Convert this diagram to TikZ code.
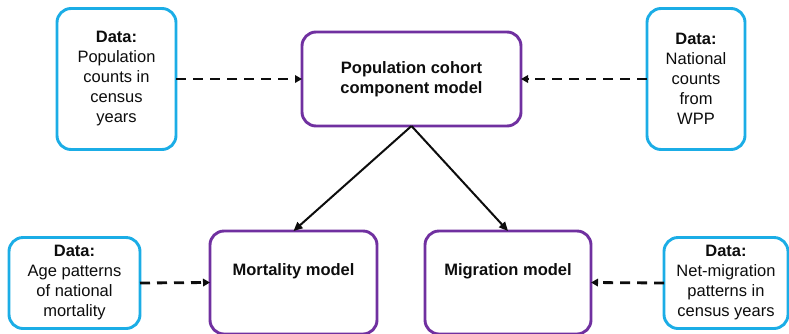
\documentclass[tikz,border=0pt]{standalone}
\usepackage{fontspec}
\setmainfont{Liberation Sans}
\usetikzlibrary{arrows.meta}
\definecolor{FlowData}{HTML}{1BADE6}
\definecolor{FlowModel}{HTML}{7030A0}
\definecolor{FlowInk}{gray}{0.05}
\tikzset{
    flow/diagram/.style={
        font=\fontsize{16.5}{20}\selectfont,
        text=FlowInk,
        line cap=butt,
        line join=round,
        every node/.style={inner sep=0pt, outer sep=0pt}
    },
    flow/data/.style={
        draw=FlowData, line width=2.9pt, rounded corners=14pt,
        align=center, fill=white
    },
    flow/model/.style={
        draw=FlowModel, line width=2.9pt, rounded corners=14pt,
        align=center, fill=white, font=\fontsize{16.5}{20}\selectfont\bfseries
    },
    flow/feed/.style={
        draw=FlowInk, line width=2.8pt, dash pattern=on 10pt off 7pt,
        -{Triangle[length=7pt, width=7.5pt]}
    },
    flow/link/.style={
        draw=FlowInk, line width=2pt,
        -{Triangle[length=9pt, width=8pt]}
    }
}
\begin{document}
\begin{tikzpicture}[flow/diagram, x=1pt, y=-1pt]
    \useasboundingbox (0,0) rectangle (789,333);
    % upper row
    \node[flow/data, minimum width=119pt, minimum height=141pt] (census)
        at (116.5,79) {\textbf{Data:}\\Population\\counts in\\census\\years};
    \node[flow/model, minimum width=219pt, minimum height=94pt] (cohort)
        at (411.5,79) {Population cohort\\component model};
    \node[flow/data, minimum width=98pt, minimum height=141pt] (wpp)
        at (696,79) {\textbf{Data:}\\National\\counts\\from\\WPP};
    % lower row
    \node[flow/model, minimum width=167pt, anchor=north, text height=44pt,
        text depth=59pt] (mortality) at (293.5,231) {Mortality model};
    \node[flow/model, minimum width=166pt, anchor=north, text height=44pt,
        text depth=59pt] (migration) at (508,231) {Migration model};
    \node[flow/data, minimum width=131pt, minimum height=91pt] (agepat)
        at (74.5,283) {\textbf{Data:}\\Age patterns\\of national\\mortality};
    \node[flow/data, minimum width=124pt, minimum height=91pt] (netmig)
        at (726,283) {\textbf{Data:}\\Net-migration\\patterns in\\census years};
    % connectors
    \draw[flow/feed] (census.east) -- (cohort.west);
    \draw[flow/feed] (wpp.west) -- (cohort.east);
    \draw[flow/link] (cohort.south) -- (mortality.north);
    \draw[flow/link] (cohort.south) -- (migration.north);
    \draw[flow/feed] (agepat.east) -- (mortality.west);
    \draw[flow/feed] (netmig.west) -- (migration.east);
\end{tikzpicture}
\end{document}
